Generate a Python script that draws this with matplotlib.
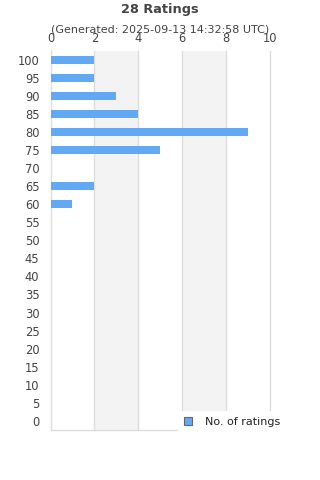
import numpy as np
import matplotlib
matplotlib.use('Agg')
import matplotlib.pyplot as plt
from matplotlib.patches import Rectangle

ratings = [100, 95, 90, 85, 80, 75, 70, 65, 60, 55, 50, 45, 40, 35, 30, 25, 20, 15, 10, 5, 0]
counts = [2, 2, 3, 4, 9, 5, 0, 2, 1, 0, 0, 0, 0, 0, 0, 0, 0, 0, 0, 0, 0]
xticks = [0, 2, 4, 6, 8, 10]

fig = plt.figure(figsize=(3.2, 4.8), dpi=100)
ax = fig.add_axes([50.5/320, 1-430/480, (270-50.5)/320, (430-50.5)/480])

y = np.arange(len(ratings))
bars = ax.barh(y, counts, height=0.44, color='#62a9f5', zorder=3, label='No. of ratings')
ax.set_ylim(len(ratings)-0.5, -0.5)
ax.set_xlim(0, 10)

# alternating bands
for i in range(len(xticks)-1):
    if i % 2 == 1:
        ax.axvspan(xticks[i], xticks[i+1], color='#f3f3f3', zorder=0, lw=0)
for x in xticks[1:]:
    ax.axvline(x, color='#dddddd', lw=1, zorder=1, clip_on=False)

ax.set_yticks(y)
ax.set_yticklabels([str(r) for r in ratings])
ax.set_xticks(xticks)
ax.xaxis.tick_top()
ax.tick_params(axis='both', length=0, labelsize=8.3, colors='#444444')
ax.tick_params(axis='x', pad=4)
ax.tick_params(axis='y', pad=8)
for s in ['top', 'right']:
    ax.spines[s].set_visible(False)
for s in ['left', 'bottom']:
    ax.spines[s].set_color('#dddddd')
    ax.spines[s].set_linewidth(1)

fig.text(0.5, 1-10/480, '28 Ratings', ha='center', va='center', fontsize=9.3,
         fontweight='bold', color='#444444')
fig.text(0.5, 1-30/480, '(Generated: 2025-09-13 14:32:58 UTC)', ha='center', va='center',
         fontsize=8, color='#444444')

# white legend box covering the lower right corner
fig.patches.append(Rectangle((178/320, 1-434/480), 110/320, 23/480, transform=fig.transFigure,
                             facecolor='white', edgecolor='none', zorder=4))
leg = fig.legend(handles=[bars], labels=['No. of ratings'], loc='center left',
                 bbox_to_anchor=(184/320, 1-422/480), fontsize=8, frameon=False,
                 handlelength=0.75, handleheight=0.75, borderpad=0,
                 handletextpad=1.1, borderaxespad=0)
leg.legend_handles[0].set_edgecolor('#666666')
leg.legend_handles[0].set_linewidth(0.8)
for t in leg.get_texts():
    t.set_color('#222222')
leg.set_zorder(5)

fig.savefig('out.png', dpi=100)
